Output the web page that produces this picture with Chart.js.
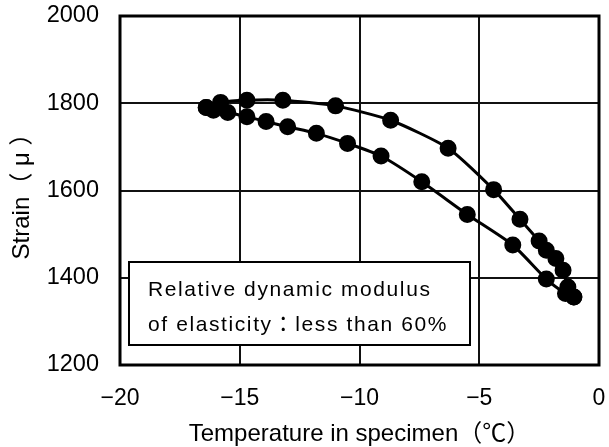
<!DOCTYPE html>
<html>
<head>
<meta charset="utf-8">
<script src="https://cdn.jsdelivr.net/npm/chart.js@4/dist/chart.umd.min.js"></script>
<style>
html,body{margin:0;padding:0;background:#fff;}
#wrap{width:609px;height:447px;position:relative;}
</style>
</head>
<body>
<div id="wrap"><canvas id="c"></canvas></div>
<script>
// Upper branch of the loop (temperature °C, strain μ)
const upperTemp   = [-16.4, -15.8, -14.7, -13.2, -11.0, -8.7, -6.3, -4.4, -3.3, -2.5, -2.2, -1.8, -1.5, -1.3, -1.05];
const upperStrain = [1790, 1802, 1807, 1807, 1794, 1761, 1697, 1602, 1534, 1484, 1463, 1444, 1417, 1379, 1356];
// Lower branch of the loop
const lowerTemp   = [-16.4, -16.1, -15.5, -14.7, -13.9, -13.0, -11.8, -10.5, -9.1, -7.4, -5.5, -3.6, -2.2, -1.4, -1.05];
const lowerStrain = [1790, 1784, 1779, 1769, 1758, 1746, 1731, 1708, 1679, 1620, 1545, 1475, 1397, 1364, 1356];
// Axes
const xTicks = [-20, -15, -10, -5, 0];
const yTicks = [1200, 1400, 1600, 1800, 2000];
const xTitle = 'Temperature in specimen（℃）';
const yTitle = 'Strain（ μ ）';
const noteLines = ['Relative dynamic modulus', 'of elasticity：less than 60%'];

const FONT = "'Liberation Sans', 'Noto Sans CJK JP', sans-serif";

function pts(xs, ys){ return xs.map((x,i)=>({x:x, y:ys[i]})); }

const framePlugin = {
  id: 'frameNote',
  beforeDatasetsDraw(chart){
    const ctx = chart.ctx, a = chart.chartArea;
    ctx.save();
    // note box
    const bx = a.left + 9, by = 262, bw = 341, bh = 83;
    ctx.fillStyle = '#fff';
    ctx.fillRect(bx, by, bw, bh);
    ctx.lineWidth = 2;
    ctx.strokeStyle = '#000';
    ctx.strokeRect(bx, by, bw, bh);
    ctx.fillStyle = '#000';
    ctx.font = '21px ' + FONT;
    if ('letterSpacing' in ctx) ctx.letterSpacing = '1.6px';
    ctx.textBaseline = 'middle';
    ctx.textAlign = 'left';
    ctx.fillText(noteLines[0], bx + 19, by + 28);
    ctx.fillText(noteLines[1], bx + 19, by + 63);
    if ('letterSpacing' in ctx) ctx.letterSpacing = '0px';
    // frame
    ctx.lineWidth = 3;
    ctx.strokeRect(a.left, a.top, a.right - a.left, a.bottom - a.top);
    ctx.restore();
  }
};

new Chart(document.getElementById('c'), {
  type: 'scatter',
  data: {
    datasets: [
      { data: pts(upperTemp, upperStrain), showLine: true, borderColor: '#000', backgroundColor: '#000',
        borderWidth: 3, pointRadius: 7, pointHoverRadius: 7, tension: 0.2 },
      { data: pts(lowerTemp, lowerStrain), showLine: true, borderColor: '#000', backgroundColor: '#000',
        borderWidth: 3, pointRadius: 7, pointHoverRadius: 7, tension: 0.2 }
    ]
  },
  options: {
    responsive: true,
    maintainAspectRatio: false,
    animation: false,
    layout: { padding: { top: 16, right: 7, left: 0, bottom: 0 } },
    plugins: { legend: { display: false }, tooltip: { enabled: false } },
    scales: {
      x: {
        type: 'linear', min: -20, max: 0,
        afterBuildTicks(s){ s.ticks = xTicks.map(v=>({value:v})); },
        afterFit(s){ s.height = 82; s.paddingLeft = 0; s.paddingRight = 0; },
        grid: { color: '#111', lineWidth: 2, drawTicks: false },
        border: { display: false },
        ticks: { padding: 20, color: '#000', font: { size: 23, family: FONT },
                 callback: v => String(v).replace('-', '\u2212') },
        title: { display: true, text: xTitle, color: '#000', font: { size: 24, family: FONT, lineHeight: 1 },
                 padding: { top: 0, bottom: 1 } }
      },
      y: {
        type: 'linear', min: 1200, max: 2000,
        afterBuildTicks(s){ s.ticks = yTicks.map(v=>({value:v})); },
        afterFit(s){ s.width = 120; s.paddingTop = 0; s.paddingBottom = 0; },
        grid: { color: '#111', lineWidth: 2, drawTicks: false },
        border: { display: false },
        ticks: { padding: 21, color: '#000', font: { size: 23.5, family: FONT },
                 callback: v => String(v) },
        title: { display: true, text: yTitle, color: '#000', font: { size: 24, family: FONT, lineHeight: 1 },
                 padding: { top: 10, bottom: 0 } }
      }
    }
  },
  plugins: [framePlugin]
});
</script>
</body>
</html>
